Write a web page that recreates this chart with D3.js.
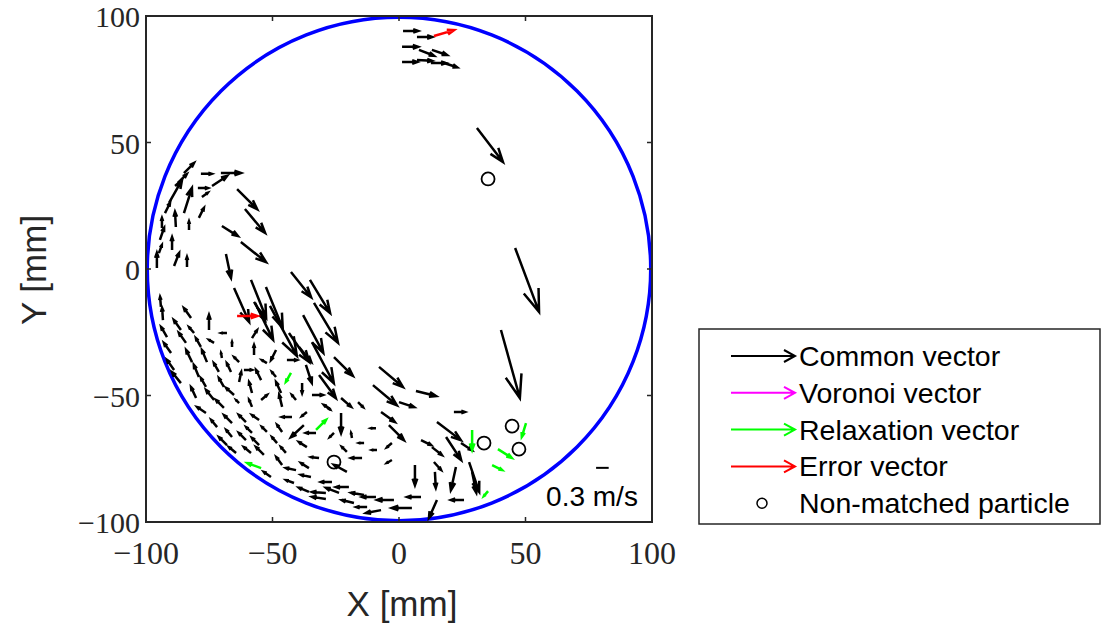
<!DOCTYPE html>
<html>
<head>
<meta charset="utf-8">
<script src="https://cdn.jsdelivr.net/npm/d3@7"></script>
<style>
  body { margin: 0; background: #fff; }
</style>
</head>
<body>
<div id="wrapper"></div>
<script>
// vectors: [x (mm), y (mm), u (m/s), v (m/s)]
const commonVectors = [
  // top cluster
  [1.6, 94.1, 0.36, 0], [7.1, 91.7, 0.36, 0], [1.2, 87.8, 0.38, 0], [7.9, 86.6, 0.36, -0.14],
  [13.0, 86.6, 0.36, -0.12], [1.2, 81.8, 0.36, 0], [7.1, 82.6, 0.36, -0.02], [12.6, 81.4, 0.36, 0],
  [17.8, 81.4, 0.31, -0.10],
  // right side
  [30.8, 55.7, 0.62, -0.81], [45.9, 8.3, 0.57, -1.52], [40.3, -24.1, 0.45, -1.62],
  // upper left arc
  [-85.0, 37.9, 0.24, 0.24], [-78.3, 37.6, 0.26, 0], [-70.4, 37.9, 0.48, 0], [-87.4, 34.0, 0.21, 0.21],
  [-73.9, 32.8, 0.36, 0.24], [-79.5, 32.0, 0.24, 0], [-77.9, 28.5, 0.14, 0.10], [-90.9, 26.1, 0.31, 0.55],
  [-92.5, 22.1, 0.12, 0.24], [-85.0, 22.1, 0.19, 0.60], [-79.1, 20.2, 0.12, 0.24], [-64.0, 31.6, 0.48, -0.48],
  [-60.9, 23.7, 0.48, -0.57], [-70.0, 17.0, 0.38, -0.24], [-62.5, 10.7, 0.60, -0.48], [-68.4, 5.9, 0.12, -0.57],
  [-93.7, 16.2, 0, 0.24], [-88.2, 16.6, -0.02, 0.36], [-83.0, 15.4, 0, 0.21], [-89.7, 7.5, 0, 0.31],
  [-94.5, 11.5, 0.10, 0.29], [-95.7, 0.4, 0, 0.36], [-94.9, 6.3, 0.07, 0.19], [-88.9, 1.2, 0.12, 0.31],
  [-83.8, 0.8, 0, 0.24], [-94.1, -15.0, -0.02, 0.24], [-93.3, -20.2, -0.02, 0.29], [-75.1, -24.1, 0, 0.36],
  // fast band
  [-65.2, -7.5, 0.36, -0.81], [-58.5, -4.3, 0.36, -0.90], [-57.3, -13.0, 0.26, -0.43], [-52.6, -7.1, 0.40, -0.98],
  [-56.9, -13.4, 0.43, -0.88], [-51.0, -14.6, 0.64, -1.19], [-43.5, -25.3, 0.48, -0.69], [-42.7, -1.2, 0.48, -0.60],
  [-35.2, -4.3, 0.48, -0.79], [-37.9, -18.2, 0.48, -0.90], [-34.4, -28.9, 0.52, -0.98], [-33.6, -13.4, 0.57, -0.95],
  [-39.5, -30.8, 0.29, -0.36], [-25.7, -34.8, 0.45, -0.45], [-36.8, -37.9, 0.14, -0.43], [-31.6, -41.9, 0.40, -0.55],
  [-7.9, -38.7, 0.57, -0.48], [-10.3, -45.9, 0.57, -0.48], [6.7, -48.2, 0.48, -0.12], [0, -52.6, 0.36, -0.12],
  [21.7, -56.5, 0.26, 0], [-22.9, -51.0, 0.24, -0.21], [-16.2, -52.6, 0.12, -0.12], [-34.4, -49.8, 0.26, 0],
  [-29.3, -53.8, 0.12, -0.10], [-38.3, -45.1, 0, -0.24], [-7.1, -56.5, 0.33, -0.24],
  // lower left
  [-82.2, -19.4, -0.17, 0.24], [-86.2, -24.1, -0.17, 0.24], [-91.7, -26.9, -0.14, 0.24], [-81.0, -25.3, -0.12, 0.14],
  [-68.0, -25.3, -0.14, 0], [-58.1, -27.3, 0.12, 0.19], [-84.2, -29.2, -0.17, 0.24], [-78.3, -30.8, -0.12, 0.21],
  [-73.1, -29.2, -0.12, 0.07], [-66.0, -30.8, 0, 0.12], [-90.1, -33.2, -0.17, 0.24], [-57.3, -34.0, 0, 0.24],
  [-48.6, -32.0, -0.12, -0.24], [-81.8, -36.8, -0.14, 0.29], [-75.9, -36.8, -0.12, 0.29], [-70.0, -35.2, -0.02, 0.12],
  [-63.2, -36.8, -0.12, 0.12], [-44.3, -36.0, 0.24, 0], [-52.2, -37.2, -0.12, 0.07], [-88.9, -39.9, -0.17, 0.24],
  [-79.1, -42.7, -0.12, 0.29], [-71.2, -40.7, -0.12, 0.21], [-66.4, -40.7, -0.10, 0.21], [-61.3, -39.9, 0.19, 0],
  [-63.2, -44.7, 0.05, 0.24], [-54.5, -43.9, -0.12, 0.24], [-48.6, -42.7, -0.10, 0.12], [-86.2, -45.1, -0.21, 0.26],
  [-76.3, -46.6, -0.12, 0.21], [-69.2, -46.6, -0.12, 0.21], [-58.1, -49.0, -0.07, 0.26], [-46.6, -49.0, -0.12, 0.26],
  [-54.5, -51.8, 0.14, 0.12], [-80.2, -51.0, -0.12, 0.26], [-73.1, -51.8, -0.19, 0.24], [-65.2, -49.8, -0.19, 0.17],
  [-40.7, -51.8, -0.10, 0.12], [-76.3, -56.9, -0.21, 0.14], [-69.2, -54.9, -0.19, 0.19], [-63.2, -53.0, -0.07, 0.07],
  [-58.1, -54.5, -0.07, 0.17], [-46.2, -54.5, -0.07, 0.29], [-66.0, -60.9, -0.19, 0.19], [-60.5, -60.5, -0.17, 0.17],
  [-55.3, -59.7, -0.17, 0.12], [-42.3, -58.5, -0.24, 0], [-71.9, -62.5, -0.14, 0.17], [-66.0, -66.4, -0.14, 0.17],
  [-58.1, -64.8, -0.14, 0.14], [-52.2, -64.4, -0.12, 0.12], [-46.2, -64.4, -0.12, 0.17], [-32.8, -64.8, -0.24, 0],
  [-37.6, -61.7, -0.31, -0.29], [-68.0, -69.6, -0.19, 0.19], [-60.5, -67.6, -0.17, 0.17], [-55.3, -69.6, -0.17, 0.17],
  [-48.2, -68.8, -0.12, 0.14], [-36.4, -70.4, -0.19, 0.12], [-64.4, -72.7, -0.17, 0.14], [-58.5, -72.7, -0.17, 0.14],
  [-53.4, -73.5, -0.19, 0.19], [-44.7, -72.7, -0.12, 0.14], [-31.6, -74.7, -0.19, 0.02], [-50.6, -82.2, -0.17, 0.12],
  [-46.2, -77.5, -0.14, 0.19], [-40.7, -79.5, -0.24, 0.05], [-35.6, -78.7, -0.19, 0.12], [-41.5, -84.6, -0.19, 0.07],
  [-34.8, -82.2, -0.24, 0.05], [-26.5, -84.2, -0.26, 0], [-35.6, -88.1, -0.24, 0.10], [-28.9, -88.5, -0.33, 0.02],
  [-28.9, -90.9, -0.33, 0.05],
  // lower centre
  [-36.4, -56.5, -0.12, -0.10], [-26.9, -55.7, -0.17, 0.12], [-22.9, -56.9, 0, -0.48], [-25.7, -64.8, -0.10, -0.10],
  [-18.6, -66.8, -0.02, 0.12], [-9.1, -62.9, -0.12, 0], [-4.0, -61.7, 0.36, -0.36], [15.0, -60.5, 0.57, -0.43],
  [18.6, -66.4, 0.36, -0.55], [24.5, -68.8, 0.26, -0.17], [-20.6, -72.3, -0.12, 0.12], [-13.8, -68.8, -0.12, 0],
  [-8.7, -71.5, -0.12, 0], [-2.8, -68.8, -0.12, -0.10], [-14.6, -74.7, -0.26, 0], [-20.6, -80.2, -0.31, 0.17],
  [-2.8, -75.5, -0.12, -0.07], [8.7, -67.6, 0.24, -0.12], [13.0, -70.4, 0.24, -0.19], [13.8, -76.3, 0.17, -0.19],
  [6.3, -77.5, 0, -0.48], [14.2, -80.2, 0.02, -0.38], [22.5, -78.3, -0.12, -0.55], [27.7, -76.3, 0.24, -0.71],
  [28.9, -80.2, 0.10, -0.50], [25.7, -91.3, -0.31, 0], [15.0, -91.3, -0.19, -0.43], [8.7, -90.1, -0.33, 0],
  [5.1, -94.5, -0.48, 0], [-23.7, -88.5, -0.31, 0.12], [-19.8, -86.2, -0.31, 0], [-17.8, -92.5, -0.29, 0.07],
  [-13.8, -89.3, -0.31, 0.05], [-9.1, -90.1, -0.33, 0], [-12.6, -94.1, -0.26, 0], [-2.0, -91.3, -0.40, 0],
  [-7.1, -95.3, -0.36, -0.07]
];
const voronoiVectors = [];
const relaxationVectors = [
  [-42.7, -41.1, -0.12, -0.21], [-32.8, -63.6, 0.24, 0.24], [-54.5, -78.7, -0.33, 0.12], [28.9, -63.6, 0, -0.48],
  [50.2, -60.9, -0.10, -0.33], [39.1, -71.2, 0.33, -0.21], [36.8, -77.5, 0.24, -0.12], [35.2, -87.8, -0.10, -0.12]
];
const errorVectors = [
  [13.8, 92.1, 0.48, 0.14], [-64.0, -18.6, 0.48, 0]
];
const nonMatched = [
  [35.2, 35.6], [33.6, -68.8], [44.7, -62.1], [47.4, -71.2], [-25.7, -76.3]
];
const xTicks = [-100, -50, 0, 50, 100];
const yTicks = [-100, -50, 0, 50, 100];
const legendLabels = ["Common vector", "Voronoi vector", "Relaxation vector", "Error vector", "Non-matched particle"];
const legendColors = ["#000000", "#ff00ff", "#00ff00", "#ff0000", null];
const pipeRadius = 99.5;     // mm
const refSpeed = 0.3;        // m/s, reference bar
const mmPerMs = 16.6;        // quiver scale: mm drawn per 1 m/s

const width = 1101, height = 624;
const svg = d3.select("#wrapper").append("svg")
  .attr("width", width).attr("height", height)
  .style("font-family", "'Liberation Sans', Arial, sans-serif");

const xScale = d3.scaleLinear().domain([-100, 100]).range([146, 652]);
const yScale = d3.scaleLinear().domain([-100, 100]).range([522, 16]);

const axisColor = "#262626";

// pipe wall
svg.append("circle")
  .attr("cx", xScale(0)).attr("cy", yScale(0))
  .attr("r", xScale(pipeRadius) - xScale(0))
  .attr("fill", "none").attr("stroke", "#0000ff").attr("stroke-width", 3.5);

// quiver arrow path, MATLAB-like head
const arrowPath = (x0, y0, x1, y1) => {
  const du = x1 - x0, dv = y1 - y0;
  const a = 0.33, b = 0.35;
  const h1x = x1 - a * (du + b * dv), h1y = y1 - a * (dv - b * du);
  const h2x = x1 - a * (du - b * dv), h2y = y1 - a * (dv + b * du);
  return `M${x0},${y0}L${x1},${y1}M${h1x},${h1y}L${x1},${y1}L${h2x},${h2y}`;
};

const drawVectors = (data, color) => {
  svg.append("g").selectAll("path").data(data).join("path")
    .attr("d", d => arrowPath(
      xScale(d[0]), yScale(d[1]),
      xScale(d[0] + d[2] * mmPerMs), yScale(d[1] + d[3] * mmPerMs)))
    .attr("fill", "none").attr("stroke", color)
    .attr("stroke-width", 2.5).attr("stroke-linecap", "butt").attr("stroke-linejoin", "miter");
};

drawVectors(commonVectors, "#000000");
drawVectors(voronoiVectors, "#ff00ff");
drawVectors(relaxationVectors, "#00ff00");
drawVectors(errorVectors, "#ff0000");

svg.append("g").selectAll("circle").data(nonMatched).join("circle")
  .attr("cx", d => xScale(d[0])).attr("cy", d => yScale(d[1]))
  .attr("r", 6.5).attr("fill", "none").attr("stroke", "#000").attr("stroke-width", 1.8);

// reference bar
const refX = 77.9, refY = -78.6;
svg.append("line")
  .attr("x1", xScale(refX)).attr("y1", yScale(refY))
  .attr("x2", xScale(refX + refSpeed * mmPerMs)).attr("y2", yScale(refY))
  .attr("stroke", "#000").attr("stroke-width", 2);
svg.append("text")
  .attr("x", 592).attr("y", 506)
  .attr("text-anchor", "middle").attr("font-size", 28)
  .text(`${refSpeed} m/s`);

// axes box
const box = svg.append("g");
box.append("rect")
  .attr("x", 146).attr("y", 16).attr("width", 506).attr("height", 506)
  .attr("fill", "none").attr("stroke", axisColor).attr("stroke-width", 2);

const tickLen = 5;
box.selectAll(".xt").data(xTicks).join("path")
  .attr("d", d => `M${xScale(d)},522v${-tickLen}M${xScale(d)},16v${tickLen}`)
  .attr("stroke", axisColor).attr("stroke-width", 1.5);
box.selectAll(".yt").data(yTicks).join("path")
  .attr("d", d => `M146,${yScale(d)}h${tickLen}M652,${yScale(d)}h${-tickLen}`)
  .attr("stroke", axisColor).attr("stroke-width", 1.5);

const fmt = d => d < 0 ? "\u2212" + Math.abs(d) : String(d);
svg.append("g").selectAll("text").data(xTicks).join("text")
  .attr("x", d => xScale(d)).attr("y", 564)
  .attr("text-anchor", "middle")
  .style("font-family", "'Liberation Serif', 'DejaVu Serif', serif")
  .attr("font-size", 32).attr("fill", axisColor)
  .text(fmt);
svg.append("g").selectAll("text").data(yTicks).join("text")
  .attr("x", 140).attr("y", d => yScale(d) + 11)
  .attr("text-anchor", "end")
  .style("font-family", "'Liberation Serif', 'DejaVu Serif', serif")
  .attr("font-size", 30).attr("fill", axisColor)
  .text(fmt);

svg.append("text")
  .attr("x", 402).attr("y", 616).attr("text-anchor", "middle")
  .attr("font-size", 35).attr("fill", axisColor).text("X [mm]");
svg.append("text")
  .attr("transform", "translate(46,270) rotate(-90)").attr("text-anchor", "middle")
  .attr("font-size", 35).attr("fill", axisColor).text("Y [mm]");

// legend
const legend = svg.append("g");
legend.append("rect")
  .attr("x", 699).attr("y", 329).attr("width", 401).attr("height", 195)
  .attr("fill", "#fff").attr("stroke", axisColor).attr("stroke-width", 1.5);
const rowY = i => 356 + i * 36.8;
legendLabels.forEach((label, i) => {
  const y = rowY(i);
  if (legendColors[i]) {
    legend.append("path")
      .attr("d", `M731,${y}H795M784,${y - 6}L795,${y}L784,${y + 6}`)
      .attr("fill", "none").attr("stroke", legendColors[i]).attr("stroke-width", 2);
  } else {
    legend.append("circle").attr("cx", 762).attr("cy", y).attr("r", 5)
      .attr("fill", "none").attr("stroke", "#000").attr("stroke-width", 1.5);
  }
  legend.append("text")
    .attr("x", 799).attr("y", y + 10).attr("font-size", 28.5).attr("fill", "#000")
    .text(label);
});
</script>
</body>
</html>
